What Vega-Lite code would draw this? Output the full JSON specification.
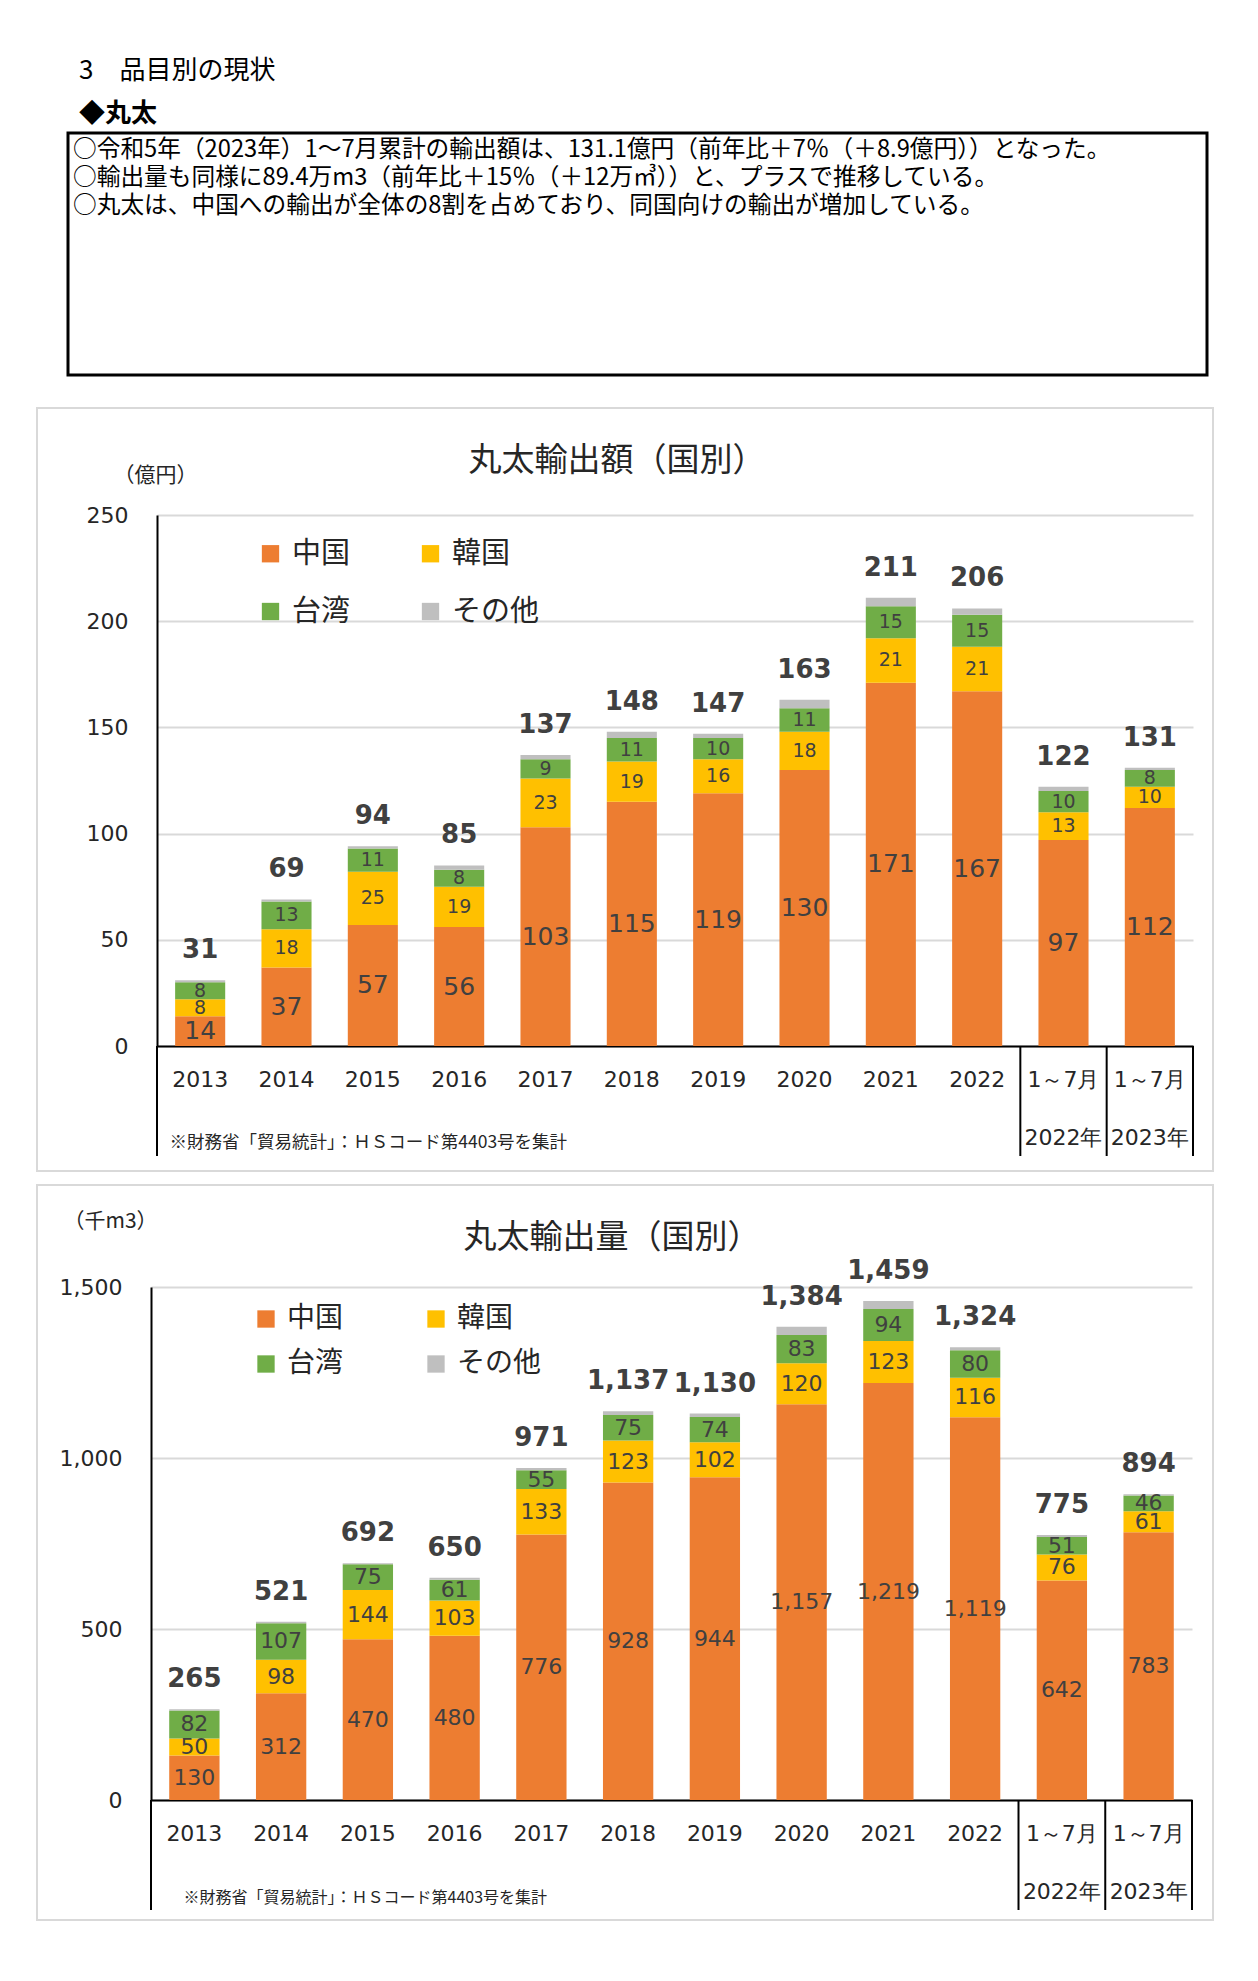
{
  "$schema": "https://vega.github.io/schema/vega-lite/v6.json",
  "background": "white",
  "padding": {"left": 36, "top": 56, "right": 0, "bottom": 0},
  "datasets": {
    "amount": [
      {"period": "2013", "country": "中国", "value": 14}, {"period": "2013", "country": "韓国", "value": 8}, {"period": "2013", "country": "台湾", "value": 8}, {"period": "2013", "country": "その他", "value": 1},
      {"period": "2014", "country": "中国", "value": 37}, {"period": "2014", "country": "韓国", "value": 18}, {"period": "2014", "country": "台湾", "value": 13}, {"period": "2014", "country": "その他", "value": 1},
      {"period": "2015", "country": "中国", "value": 57}, {"period": "2015", "country": "韓国", "value": 25}, {"period": "2015", "country": "台湾", "value": 11}, {"period": "2015", "country": "その他", "value": 1},
      {"period": "2016", "country": "中国", "value": 56}, {"period": "2016", "country": "韓国", "value": 19}, {"period": "2016", "country": "台湾", "value": 8}, {"period": "2016", "country": "その他", "value": 2},
      {"period": "2017", "country": "中国", "value": 103}, {"period": "2017", "country": "韓国", "value": 23}, {"period": "2017", "country": "台湾", "value": 9}, {"period": "2017", "country": "その他", "value": 2},
      {"period": "2018", "country": "中国", "value": 115}, {"period": "2018", "country": "韓国", "value": 19}, {"period": "2018", "country": "台湾", "value": 11}, {"period": "2018", "country": "その他", "value": 3},
      {"period": "2019", "country": "中国", "value": 119}, {"period": "2019", "country": "韓国", "value": 16}, {"period": "2019", "country": "台湾", "value": 10}, {"period": "2019", "country": "その他", "value": 2},
      {"period": "2020", "country": "中国", "value": 130}, {"period": "2020", "country": "韓国", "value": 18}, {"period": "2020", "country": "台湾", "value": 11}, {"period": "2020", "country": "その他", "value": 4},
      {"period": "2021", "country": "中国", "value": 171}, {"period": "2021", "country": "韓国", "value": 21}, {"period": "2021", "country": "台湾", "value": 15}, {"period": "2021", "country": "その他", "value": 4},
      {"period": "2022", "country": "中国", "value": 167}, {"period": "2022", "country": "韓国", "value": 21}, {"period": "2022", "country": "台湾", "value": 15}, {"period": "2022", "country": "その他", "value": 3},
      {"period": "2022年1～7月", "country": "中国", "value": 97}, {"period": "2022年1～7月", "country": "韓国", "value": 13}, {"period": "2022年1～7月", "country": "台湾", "value": 10}, {"period": "2022年1～7月", "country": "その他", "value": 2},
      {"period": "2023年1～7月", "country": "中国", "value": 112}, {"period": "2023年1～7月", "country": "韓国", "value": 10}, {"period": "2023年1～7月", "country": "台湾", "value": 8}, {"period": "2023年1～7月", "country": "その他", "value": 1}
    ],
    "volume": [
      {"period": "2013", "country": "中国", "value": 130}, {"period": "2013", "country": "韓国", "value": 50}, {"period": "2013", "country": "台湾", "value": 82}, {"period": "2013", "country": "その他", "value": 3},
      {"period": "2014", "country": "中国", "value": 312}, {"period": "2014", "country": "韓国", "value": 98}, {"period": "2014", "country": "台湾", "value": 107}, {"period": "2014", "country": "その他", "value": 4},
      {"period": "2015", "country": "中国", "value": 470}, {"period": "2015", "country": "韓国", "value": 144}, {"period": "2015", "country": "台湾", "value": 75}, {"period": "2015", "country": "その他", "value": 3},
      {"period": "2016", "country": "中国", "value": 480}, {"period": "2016", "country": "韓国", "value": 103}, {"period": "2016", "country": "台湾", "value": 61}, {"period": "2016", "country": "その他", "value": 6},
      {"period": "2017", "country": "中国", "value": 776}, {"period": "2017", "country": "韓国", "value": 133}, {"period": "2017", "country": "台湾", "value": 55}, {"period": "2017", "country": "その他", "value": 7},
      {"period": "2018", "country": "中国", "value": 928}, {"period": "2018", "country": "韓国", "value": 123}, {"period": "2018", "country": "台湾", "value": 75}, {"period": "2018", "country": "その他", "value": 11},
      {"period": "2019", "country": "中国", "value": 944}, {"period": "2019", "country": "韓国", "value": 102}, {"period": "2019", "country": "台湾", "value": 74}, {"period": "2019", "country": "その他", "value": 10},
      {"period": "2020", "country": "中国", "value": 1157}, {"period": "2020", "country": "韓国", "value": 120}, {"period": "2020", "country": "台湾", "value": 83}, {"period": "2020", "country": "その他", "value": 24},
      {"period": "2021", "country": "中国", "value": 1219}, {"period": "2021", "country": "韓国", "value": 123}, {"period": "2021", "country": "台湾", "value": 94}, {"period": "2021", "country": "その他", "value": 23},
      {"period": "2022", "country": "中国", "value": 1119}, {"period": "2022", "country": "韓国", "value": 116}, {"period": "2022", "country": "台湾", "value": 80}, {"period": "2022", "country": "その他", "value": 9},
      {"period": "2022年1～7月", "country": "中国", "value": 642}, {"period": "2022年1～7月", "country": "韓国", "value": 76}, {"period": "2022年1～7月", "country": "台湾", "value": 51}, {"period": "2022年1～7月", "country": "その他", "value": 6},
      {"period": "2023年1～7月", "country": "中国", "value": 783}, {"period": "2023年1～7月", "country": "韓国", "value": 61}, {"period": "2023年1～7月", "country": "台湾", "value": 46}, {"period": "2023年1～7月", "country": "その他", "value": 4}
    ]
  },
  "spacing": 30,
  "vconcat": [
    {
      "spacing": 0,
      "hconcat": [
        {
          "width": 29,
          "height": 242,
          "view": {"stroke": null},
          "data": {"values": [{"line": 1}]},
          "mark": {"type": "text", "text": ""},
          "encoding": {}
        },
        {
          "width": 1139,
          "height": 242,
          "view": {"stroke": "black", "strokeWidth": 3},
          "title": {"text": "3　品目別の現状", "subtitle": "◆丸太", "anchor": "start", "frame": "group", "dx": 11, "fontSize": 26, "fontWeight": "normal", "font": "Noto Sans CJK JP", "color": "black", "subtitleFont": "Noto Sans CJK JP", "subtitleFontSize": 26, "subtitleFontWeight": "bold", "subtitleColor": "black", "subtitlePadding": 17, "offset": 6},
          "data": {"values": [
            {"line": 1, "text": "○令和5年（2023年）1～7月累計の輸出額は、131.1億円（前年比＋7％（＋8.9億円））となった。"},
            {"line": 2, "text": "○輸出量も同様に89.4万m3（前年比＋15％（＋12万㎥））と、プラスで推移している。"},
            {"line": 3, "text": "○丸太は、中国への輸出が全体の8割を占めており、同国向けの輸出が増加している。"}
          ]},
          "mark": {"type": "text", "align": "left", "baseline": "middle", "dx": 5, "fontSize": 23.7, "font": "Noto Sans CJK JP", "color": "black"},
          "encoding": {
            "x": {"datum": 0, "type": "quantitative", "scale": {"domain": [0, 1]}, "axis": null},
            "y": {"field": "line", "type": "quantitative", "scale": {"domain": [0.4, 9.04], "reverse": true, "nice": false, "zero": false}, "axis": null},
            "text": {"field": "text"}
          }
        }
      ]
    },
    {
      "spacing": 12,
      "resolve": {"scale": {"color": "independent"}, "legend": {"color": "independent"}},
      "vconcat": [
        {
          "width": 1176,
          "height": 763,
          "view": {"stroke": "#d9d9d9", "strokeWidth": 2},
          "title": {"text": "丸太輸出額（国別）", "anchor": "middle", "frame": "group", "dx": -8, "offset": -70, "fontSize": 33, "fontWeight": "normal", "font": "Noto Sans CJK JP", "color": "#262626"},
          "data": {"name": "amount"},
          "transform": [{"calculate": "indexof(['中国','韓国','台湾','その他'], datum.country)", "as": "k"}],
          "encoding": {
            "x": {"field": "period", "type": "nominal", "sort": null,
              "scale": {"domain": ["2013","2014","2015","2016","2017","2018","2019","2020","2021","2022","2022年1～7月","2023年1～7月"], "range": [120, 1156], "paddingInner": 0.42, "paddingOuter": 0.21},
              "axis": {"orient": "bottom", "offset": -125, "labelAngle": 0, "labelBaseline": "top", "labelPadding": 23, "labelLineHeight": 58,
                "labelExpr": "indexof(datum.label, '1～7月') >= 0 ? ['1～7月', slice(datum.label, 0, 5)] : datum.label",
                "title": "※財務省「貿易統計」：ＨＳコード第4403号を集計", "titleX": 132, "titleY": 96, "titleAlign": "left", "titleAnchor": null, "titleBaseline": "middle", "titleFontSize": 17.5}}
          },
          "layer": [
            {
              "mark": {"type": "bar"},
              "encoding": {
                "y": {"field": "value", "type": "quantitative", "stack": "zero", "scale": {"domain": [0, 250], "range": [638, 107], "nice": false},
                  "axis": {"offset": -120, "values": [0, 50, 100, 150, 200, 250], "labelPadding": 29, "grid": true,
                    "title": "（億円）", "titleAngle": 0, "titleX": -2, "titleY": 67, "titleAlign": "center", "titleBaseline": "middle", "titleFontSize": 21}},
                "color": {"field": "country", "type": "nominal",
                  "scale": {"domain": ["中国", "台湾", "韓国", "その他"], "range": ["#ED7D31", "#70AD47", "#FFC000", "#BFBFBF"]},
                  "legend": {"orient": "none", "legendX": 219, "legendY": 131, "columns": 2, "columnPadding": 65, "rowPadding": 28, "symbolType": "square", "symbolSize": 300, "symbolStrokeWidth": 0, "labelFontSize": 29, "labelFont": "Noto Sans CJK JP", "labelColor": "#262626", "labelOffset": 7, "title": null, "padding": 0}},
                "order": {"field": "k", "type": "quantitative"}
              }
            },
            {
              "transform": [
                {"stack": "value", "groupby": ["period"], "sort": [{"field": "k", "order": "ascending"}], "as": ["v0", "v1"]},
                {"calculate": "(datum.v0 + datum.v1) / 2", "as": "mid"},
                {"filter": "datum.country !== 'その他'"}
              ],
              "mark": {"type": "text", "font": "DejaVu Sans", "color": "#404040", "baseline": "middle"},
              "encoding": {
                "y": {"field": "mid", "type": "quantitative", "scale": {"domain": [0, 250], "range": [638, 107], "nice": false}},
                "text": {"field": "value", "type": "quantitative"},
                "size": {"condition": {"test": "datum.country === '中国'", "value": 25}, "value": 19}
              }
            },
            {
              "transform": [{"aggregate": [{"op": "sum", "field": "value", "as": "total"}], "groupby": ["period"]}],
              "mark": {"type": "text", "font": "DejaVu Sans", "fontWeight": "bold", "fontSize": 26, "color": "#404040", "baseline": "alphabetic", "dy": -22},
              "encoding": {
                "y": {"field": "total", "type": "quantitative", "scale": {"domain": [0, 250], "range": [638, 107], "nice": false}},
                "text": {"field": "total", "type": "quantitative", "format": ","}
              }
            },
            {
              "transform": [{"filter": "datum.country === '中国' && (datum.period === '2013' || indexof(datum.period, '1～7月') >= 0)"}],
              "mark": {"type": "rule", "color": "black", "strokeWidth": 2},
              "encoding": {
                "x": {"field": "period", "type": "nominal", "sort": null, "bandPosition": -0.362},
                "y": {"datum": 0, "type": "quantitative", "scale": {"domain": [0, 250], "range": [638, 107], "nice": false}},
                "y2": {"datum": -51.8}
              }
            },
            {
              "transform": [{"filter": "datum.country === '中国' && datum.period === '2023年1～7月'"}],
              "mark": {"type": "rule", "color": "black", "strokeWidth": 2},
              "encoding": {
                "x": {"field": "period", "type": "nominal", "sort": null, "bandPosition": 1.362},
                "y": {"datum": 0, "type": "quantitative", "scale": {"domain": [0, 250], "range": [638, 107], "nice": false}},
                "y2": {"datum": -51.8}
              }
            }
          ]
        },
        {
          "width": 1176,
          "height": 735,
          "view": {"stroke": "#d9d9d9", "strokeWidth": 2},
          "title": {"text": "丸太輸出量（国別）", "anchor": "middle", "frame": "group", "dx": -13, "offset": -70, "fontSize": 33, "fontWeight": "normal", "font": "Noto Sans CJK JP", "color": "#262626"},
          "data": {"name": "volume"},
          "transform": [{"calculate": "indexof(['中国','韓国','台湾','その他'], datum.country)", "as": "k"}],
          "encoding": {
            "x": {"field": "period", "type": "nominal", "sort": null,
              "scale": {"domain": ["2013","2014","2015","2016","2017","2018","2019","2020","2021","2022","2022年1～7月","2023年1～7月"], "range": [114, 1155], "paddingInner": 0.42, "paddingOuter": 0.21},
              "axis": {"orient": "bottom", "offset": -120, "labelAngle": 0, "labelBaseline": "top", "labelPadding": 23, "labelLineHeight": 58,
                "labelExpr": "indexof(datum.label, '1～7月') >= 0 ? ['1～7月', slice(datum.label, 0, 5)] : datum.label",
                "title": "※財務省「貿易統計」：ＨＳコード第4403号を集計", "titleX": 146, "titleY": 97, "titleAlign": "left", "titleAnchor": null, "titleBaseline": "middle", "titleFontSize": 16}}
          },
          "layer": [
            {
              "mark": {"type": "bar"},
              "encoding": {
                "y": {"field": "value", "type": "quantitative", "stack": "zero", "scale": {"domain": [0, 1500], "range": [615, 102], "nice": false},
                  "axis": {"offset": -114, "values": [0, 500, 1000, 1500], "labelExpr": "format(datum.value, ',')", "labelPadding": 29, "grid": true,
                    "title": "（千m3）", "titleAngle": 0, "titleX": -41, "titleY": 36, "titleAlign": "center", "titleBaseline": "middle", "titleFontSize": 21}},
                "color": {"field": "country", "type": "nominal",
                  "scale": {"domain": ["中国", "台湾", "韓国", "その他"], "range": ["#ED7D31", "#70AD47", "#FFC000", "#BFBFBF"]},
                  "legend": {"orient": "none", "legendX": 215, "legendY": 120, "columns": 2, "columnPadding": 78, "rowPadding": 17, "symbolType": "square", "symbolSize": 300, "symbolStrokeWidth": 0, "labelFontSize": 28, "labelFont": "Noto Sans CJK JP", "labelColor": "#262626", "labelOffset": 7, "title": null, "padding": 0}},
                "order": {"field": "k", "type": "quantitative"}
              }
            },
            {
              "transform": [
                {"stack": "value", "groupby": ["period"], "sort": [{"field": "k", "order": "ascending"}], "as": ["v0", "v1"]},
                {"calculate": "(datum.v0 + datum.v1) / 2", "as": "mid"},
                {"filter": "datum.country !== 'その他'"}
              ],
              "mark": {"type": "text", "font": "DejaVu Sans", "color": "#404040", "baseline": "middle", "fontSize": 22},
              "encoding": {
                "y": {"field": "mid", "type": "quantitative", "scale": {"domain": [0, 1500], "range": [615, 102], "nice": false}},
                "text": {"field": "value", "type": "quantitative", "format": ","}
              }
            },
            {
              "transform": [{"aggregate": [{"op": "sum", "field": "value", "as": "total"}], "groupby": ["period"]}],
              "mark": {"type": "text", "font": "DejaVu Sans", "fontWeight": "bold", "fontSize": 26, "color": "#404040", "baseline": "alphabetic", "dy": -22},
              "encoding": {
                "y": {"field": "total", "type": "quantitative", "scale": {"domain": [0, 1500], "range": [615, 102], "nice": false}},
                "text": {"field": "total", "type": "quantitative", "format": ","}
              }
            },
            {
              "transform": [{"filter": "datum.country === '中国' && (datum.period === '2013' || indexof(datum.period, '1～7月') >= 0)"}],
              "mark": {"type": "rule", "color": "black", "strokeWidth": 2},
              "encoding": {
                "x": {"field": "period", "type": "nominal", "sort": null, "bandPosition": -0.362},
                "y": {"datum": 0, "type": "quantitative", "scale": {"domain": [0, 1500], "range": [615, 102], "nice": false}},
                "y2": {"datum": -321.6}
              }
            },
            {
              "transform": [{"filter": "datum.country === '中国' && datum.period === '2023年1～7月'"}],
              "mark": {"type": "rule", "color": "black", "strokeWidth": 2},
              "encoding": {
                "x": {"field": "period", "type": "nominal", "sort": null, "bandPosition": 1.362},
                "y": {"datum": 0, "type": "quantitative", "scale": {"domain": [0, 1500], "range": [615, 102], "nice": false}},
                "y2": {"datum": -321.6}
              }
            }
          ]
        }
      ]
    }
  ],
  "config": {
    "font": "Noto Sans CJK JP",
    "axis": {"labelFont": "DejaVu Sans", "labelFontSize": 22, "labelColor": "#262626", "titleFont": "Noto Sans CJK JP", "titleFontWeight": "normal", "titleColor": "#262626", "ticks": false, "domainColor": "black", "domainWidth": 2, "gridColor": "#d9d9d9", "gridWidth": 2},
    "axisX": {"grid": false}
  }
}
